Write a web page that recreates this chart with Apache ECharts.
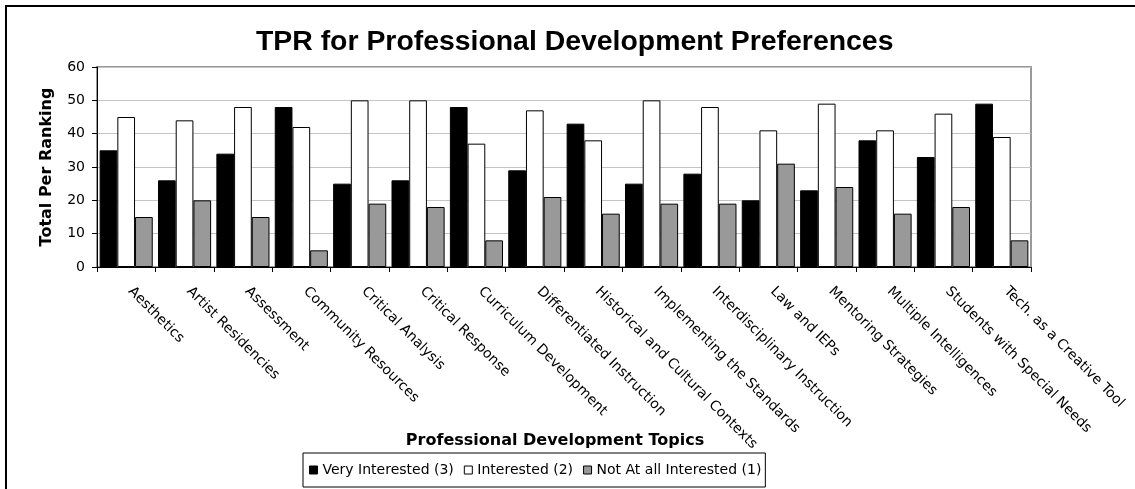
<!DOCTYPE html>
<html>
<head>
<meta charset="utf-8">
<script src="https://cdn.jsdelivr.net/npm/echarts@6/dist/echarts.min.js"></script>
<style>
html,body{margin:0;padding:0;background:#fff;}
#chart{width:1135px;height:489px;}
</style>
</head>
<body>
<div id="chart"></div>
<script>
const categories = ["Aesthetics","Artist Residencies","Assessment","Community Resources","Critical Analysis","Critical Response","Curriculum Development","Differentiated Instruction","Historical and Cultural Contexts","Implementing the Standards","Interdisciplinary Instruction","Law and IEPs","Mentoring Strategies","Multiple Intelligences","Students with Special Needs","Tech. as a Creative Tool"];
const veryInterested = [35,26,34,48,25,26,48,29,43,25,28,20,23,38,33,49];
const interested = [45,44,48,42,50,50,37,47,38,50,48,41,49,41,46,39];
const notInterested = [15,20,15,5,19,18,8,21,16,19,19,31,24,16,18,8];
const seriesNames = ["Very Interested (3)","Interested (2)","Not At all Interested (1)"];
const yTicks = {min:0,max:60,interval:10};

const smallFont = "DejaVu Sans";
const chart = echarts.init(document.getElementById('chart'), null, {renderer:'canvas'});
const barStyle = (c) => ({color:c, borderColor:'#000', borderWidth:1});
chart.setOption({
  backgroundColor:'#fff',
  animation:false,
  title:{
    text:'TPR for Professional Development Preferences',
    left:256, top:28, padding:0,
    textStyle:{fontFamily:'Liberation Sans, Arial', fontWeight:'bold', fontSize:28.4, color:'#000'}
  },
  graphic:[{type:'rect', shape:{x:6,y:6,width:2000,height:2000}, style:{fill:'none', stroke:'#000', lineWidth:2}, silent:true}],
  legend:{
    left:303, top:453, padding:[10,4,10,6],
    borderColor:'#000', borderWidth:1,
    icon:'rect',
    itemWidth:8, itemHeight:8, itemGap:10,
    itemStyle:{borderColor:'#000', borderWidth:1},
    textStyle:{fontFamily:smallFont, fontSize:14, color:'#000'},
    data:seriesNames
  },
  grid:{left:97, right:104, top:67, bottom:222, show:true, borderColor:'#999', borderWidth:2, outerBoundsMode:'none', containLabel:false},
  xAxis:{
    type:'category', data:categories, boundaryGap:true,
    name:'Professional Development Topics', nameLocation:'middle', nameGap:166, nameMoveOverlap:false,
    nameTextStyle:{fontFamily:smallFont, fontWeight:'bold', fontSize:16, color:'#000', padding:[0,18,0,0]},
    axisLine:{lineStyle:{color:'#000', width:1}},
    axisTick:{show:true, interval:0, length:5, lineStyle:{color:'#000'}},
    axisLabel:{interval:0, rotate:-45, margin:18, padding:[0,0,0,6], fontFamily:smallFont, fontSize:14, color:'#000'},
    splitLine:{show:false}
  },
  yAxis:{
    type:'value', min:yTicks.min, max:yTicks.max, interval:yTicks.interval,
    name:'Total Per Ranking', nameLocation:'middle', nameGap:42,
    nameTextStyle:{fontFamily:smallFont, fontWeight:'bold', fontSize:16, color:'#000'},
    axisLine:{show:true, lineStyle:{color:'#000', width:1}},
    axisTick:{show:true, length:5, lineStyle:{color:'#000'}},
    axisLabel:{margin:12, fontFamily:smallFont, fontSize:14, color:'#000'},
    splitLine:{show:true, lineStyle:{color:'#c4c4c4', width:1}}
  },
  series:[
    {name:seriesNames[0], type:'bar', data:veryInterested, itemStyle:barStyle('#000'), barGap:'0%', barCategoryGap:'9%'},
    {name:seriesNames[1], type:'bar', data:interested, itemStyle:barStyle('#fff'), barGap:'0%', barCategoryGap:'9%'},
    {name:seriesNames[2], type:'bar', data:notInterested, itemStyle:barStyle('#999999'), barGap:'0%', barCategoryGap:'9%'}
  ]
});
</script>
</body>
</html>
